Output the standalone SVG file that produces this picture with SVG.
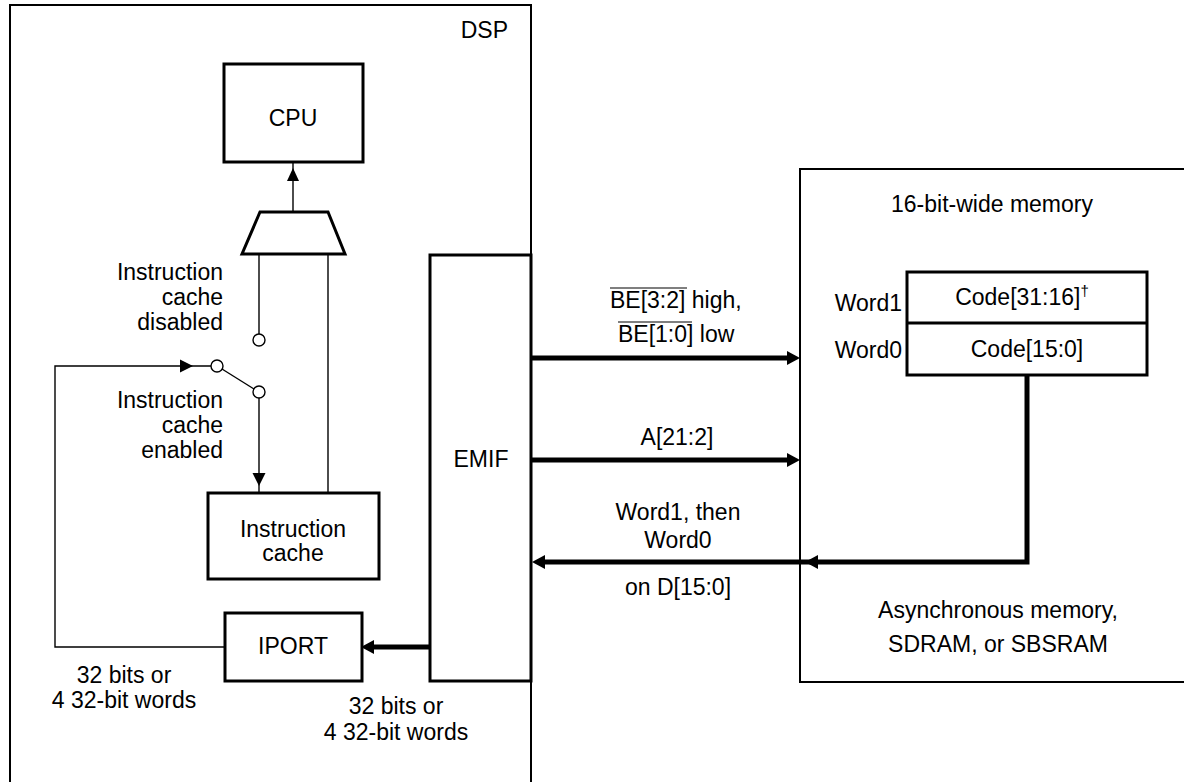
<svg xmlns="http://www.w3.org/2000/svg" width="1184" height="782" viewBox="0 0 1184 782">
<style>
text{font-family:"Liberation Sans",Arial,Helvetica,sans-serif;font-size:23px;fill:#000}
.m{text-anchor:middle}
.e{text-anchor:end}
.box{fill:#fff;stroke:#000;stroke-width:3}
.outer{fill:none;stroke:#000;stroke-width:2}
.thin{fill:none;stroke:#000;stroke-width:1.4}
.thick{fill:none;stroke:#000;stroke-width:5}
.head{fill:#000;stroke:none}
.node{fill:#fff;stroke:#000;stroke-width:1.4}
</style>
<rect x="0" y="0" width="1184" height="782" fill="#fff"/>
<g id="dsp">
<path class="outer" d="M10,790 V5 H531 V790"/>
<text x="508" y="38" class="e">DSP</text>
</g>
<g id="memory">
<path class="outer" d="M1190,169 H800 V682 H1190"/>
<text x="992" y="212" class="m">16-bit-wide memory</text>
<text x="998" y="618" class="m">Asynchronous memory,</text>
<text x="998" y="652" class="m">SDRAM, or SBSRAM</text>
</g>
<g id="words">
<rect class="box" x="907" y="272" width="240" height="103"/>
<line x1="907" y1="323" x2="1147" y2="323" stroke="#000" stroke-width="3"/>
<text x="1022" y="305" class="m">Code[31:16]<tspan font-size="15" dy="-9">†</tspan></text>
<text x="1027" y="357" class="m">Code[15:0]</text>
<text x="902" y="311" class="e">Word1</text>
<text x="902" y="358" class="e">Word0</text>
</g>
<g id="cpu">
<rect class="box" x="224" y="64" width="139" height="98"/>
<text x="293" y="126" class="m">CPU</text>
</g>
<g id="mux">
<polygon class="box" points="260,212 328,212 345,254 242,254"/>
</g>
<g id="icache">
<rect class="box" x="208" y="493" width="171" height="86"/>
<text x="293" y="537" class="m">Instruction</text>
<text x="293" y="561" class="m">cache</text>
</g>
<g id="iport">
<rect class="box" x="225" y="613" width="137" height="68"/>
<text x="293" y="654" class="m">IPORT</text>
</g>
<g id="emif">
<rect class="box" x="430" y="255" width="101" height="426"/>
<text x="481" y="467" class="m">EMIF</text>
</g>
<g id="switch">
<circle class="node" cx="259" cy="340" r="6"/>
<circle class="node" cx="217" cy="366" r="6"/>
<circle class="node" cx="259" cy="392" r="6"/>
<line class="thin" x1="222" y1="369" x2="254" y2="389"/>
</g>
<g id="labels">
<text x="223" y="280" class="e">Instruction</text>
<text x="223" y="305" class="e">cache</text>
<text x="223" y="330" class="e">disabled</text>
<text x="223" y="408" class="e">Instruction</text>
<text x="223" y="433" class="e">cache</text>
<text x="223" y="458" class="e">enabled</text>
<text x="124" y="683" class="m">32 bits or</text>
<text x="124" y="708" class="m">4 32-bit words</text>
<text x="396" y="714" class="m">32 bits or</text>
<text x="396" y="740" class="m">4 32-bit words</text>
<text x="610" y="308">BE[3:2] high,</text>
<line x1="610" y1="288" x2="687" y2="288" stroke="#000" stroke-width="1.2"/>
<text x="618" y="342">BE[1:0] low</text>
<line x1="618" y1="322" x2="692" y2="322" stroke="#000" stroke-width="1.2"/>
<text x="677" y="445" class="m">A[21:2]</text>
<text x="678" y="520" class="m">Word1, then</text>
<text x="678" y="548" class="m">Word0</text>
<text x="678" y="595" class="m">on D[15:0]</text>
</g>
<g id="connectors">
<line class="thin" x1="293" y1="212" x2="293" y2="162"/>
<polygon class="head" points="293,168 287,181 299,181"/>
<line class="thin" x1="259" y1="254" x2="259" y2="334"/>
<line class="thin" x1="328" y1="254" x2="328" y2="493"/>
<polyline class="thin" points="225,647 55,647 55,366 211,366"/>
<polygon class="head" points="193,366 180,359.5 180,372.5"/>
<line class="thin" x1="259" y1="398" x2="259" y2="493"/>
<polygon class="head" points="259,486 252.5,473 265.5,473"/>
<line class="thick" x1="430" y1="647" x2="370" y2="647"/>
<polygon class="head" points="361,647 374,640 374,654"/>
<line class="thick" x1="531" y1="358" x2="790" y2="358"/>
<polygon class="head" points="800,358 787,351 787,365"/>
<line class="thick" x1="531" y1="460" x2="790" y2="460"/>
<polygon class="head" points="800,460 787,453 787,467"/>
<polyline class="thick" points="1027,375 1027,562 540,562" stroke-linejoin="miter"/>
<polygon class="head" points="805,562 818,555 818,569"/>
<polygon class="head" points="532,562 545,555 545,569"/>
</g>
</svg>
